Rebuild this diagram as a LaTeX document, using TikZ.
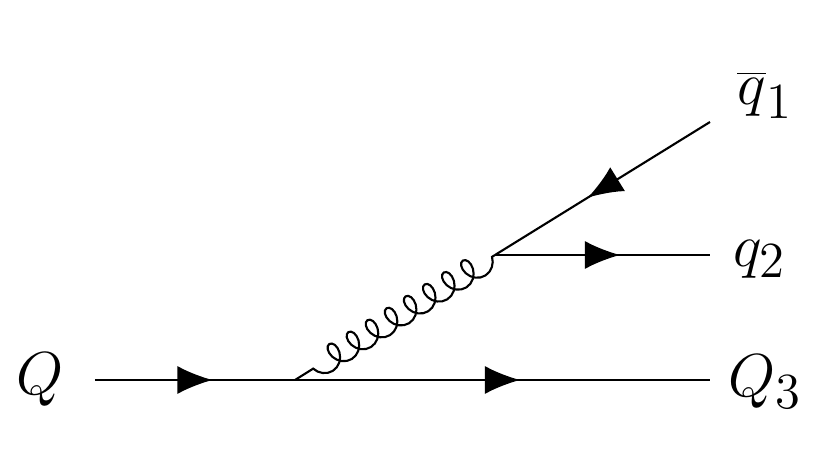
\documentclass[tikz,border=0pt]{standalone}
\usetikzlibrary{arrows.meta,decorations.markings,decorations.pathmorphing}
\begin{document}
\begin{tikzpicture}[
            >=latex,
            font=\fontsize{19}{22}\selectfont,
            line width=0.6pt,
            fermion/.style={postaction={decorate},
                decoration={markings, mark=at position 0.5 with {\arrow[xshift=5pt]{Latex[length=10pt,width=8pt]}}}},
            gluon/.style={decorate, decoration={coil, aspect=0.8, segment length=6.4pt, amplitude=3.5pt, pre length=1pt, post length=1pt}}
        ]
		\useasboundingbox (0,0) rectangle (8.3,4.67);
		
		%Vertices and ends
		\coordinate (in) at (0.95,0.87);
		\coordinate (v1) at (2.95,0.87);
		\coordinate (v2) at (4.95,2.12);
		\coordinate (out3) at (7.1,0.87);
		\coordinate (out2) at (7.1,2.12);
		\coordinate (out1) at (7.1,3.45);
		
		%Lines
		\draw[fermion] (in) -- (v1);
		\draw[fermion] (v1) -- (out3);
		\draw[fermion] (v2) -- (out2);
		\draw[fermion] (out1) -- (v2);
		\draw[gluon] (v2) -- (v1);
		
		%Labels
		\node (lQ) at (0.4,0.87) {$Q$};
		\node (lQ3) at (7.65,0.85) {$Q_3$};
		\node (lq2) at (7.6,2.08) {$q_2$};
		\node (lq1) at (7.65,3.72) {$\overline{q}_1$};
    \end{tikzpicture}
\end{document}
